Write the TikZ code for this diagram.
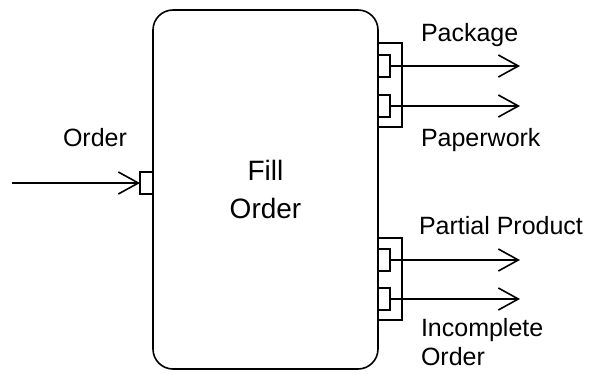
\documentclass[tikz,border=0pt]{standalone}
\usepackage{fontspec}
\setmainfont{Liberation Sans}
\usetikzlibrary{arrows.meta}
\begin{document}
\begin{tikzpicture}[x=1pt,y=-1pt,
  line width=1.6pt,
  every node/.style={inner sep=0pt, outer sep=0pt},
  lbl/.style={font=\fontsize{25}{29}\selectfont, anchor=west, align=left},
  port/.style={draw, rectangle, minimum width=12pt, minimum height=22pt},
  bracket/.style={draw, rectangle, minimum width=24pt},
  flow/.style={-{Straight Barb[length=20pt,width=22pt]}},
]
\useasboundingbox (0,0) rectangle (592,375);

% the process box
\node[draw, rounded corners=20pt, minimum width=225pt, minimum height=359pt,
      align=center, font=\fontsize{28}{38}\selectfont] (proc) at (265.5,189.5) {Fill\\Order};

% input
\node[port, minimum width=13pt] (inport) at (146.5,183) {};
\coordinate (src) at (12,183);
\draw[flow] (src) -- (inport.west);
\node[font=\fontsize{25}{29}\selectfont] (lorder) at (95,138) {Order};

% upper output group
\node[bracket, minimum height=84pt] (brA) at (390,85) {};
\node[port] (pA1) at (384,66) {};
\node[port] (pA2) at (384,106) {};
\coordinate (tA1) at (520,66);
\coordinate (tA2) at (520,106);
\draw[flow] (pA1.east) -- (tA1);
\draw[flow] (pA2.east) -- (tA2);
\node[lbl] (lpack) at (421,35) {Package};
\node[lbl] (lpaper) at (421,140) {Paperwork};

% lower output group
\node[bracket, minimum height=82pt] (brB) at (390,279) {};
\node[port] (pB1) at (384,260) {};
\node[port] (pB2) at (384,299) {};
\coordinate (tB1) at (520,260);
\coordinate (tB2) at (520,299);
\draw[flow] (pB1.east) -- (tB1);
\draw[flow] (pB2.east) -- (tB2);
\node[lbl] (lpart) at (419,226) {Partial Product};
\node[lbl] (linc) at (421,342) {Incomplete\\Order};
\end{tikzpicture}
\end{document}
